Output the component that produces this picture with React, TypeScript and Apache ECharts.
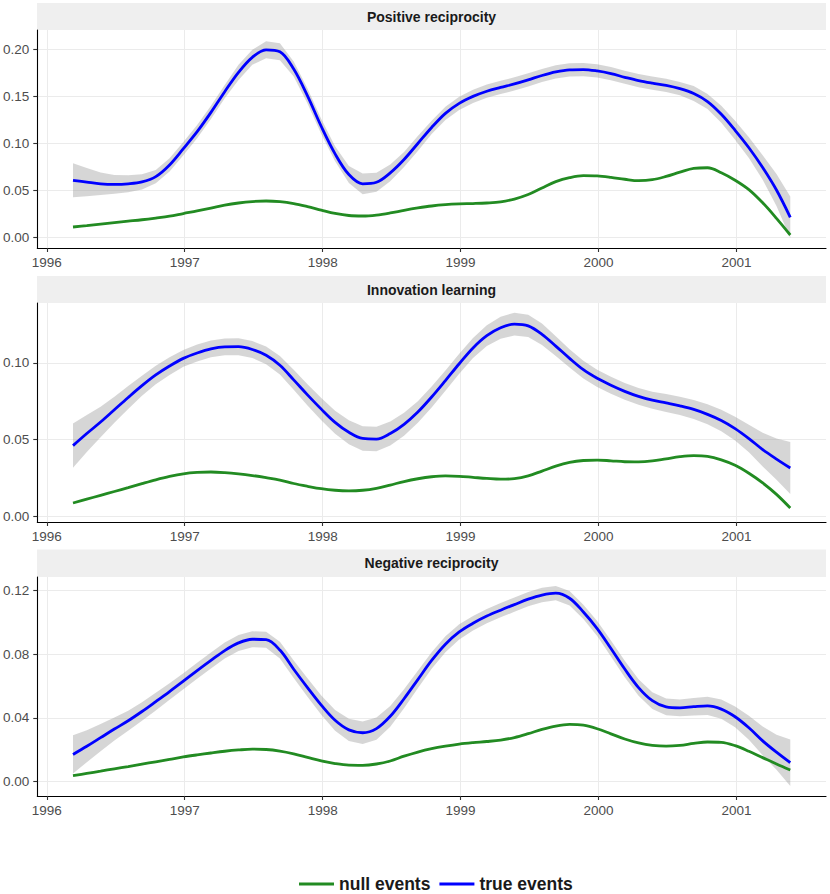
import React, { useEffect, useRef } from "react";
import * as echarts from "echarts";

// ---------- data ----------
const years = [
  1996.19, 1996.29, 1996.39, 1996.49, 1996.59, 1996.69, 1996.79, 1996.89, 1996.99, 1997.09,
  1997.19, 1997.29, 1997.39, 1997.49, 1997.59, 1997.69, 1997.79, 1997.89, 1997.99, 1998.09,
  1998.19, 1998.29, 1998.39, 1998.49, 1998.59, 1998.69, 1998.79, 1998.89, 1998.99, 1999.09,
  1999.19, 1999.29, 1999.39, 1999.49, 1999.59, 1999.69, 1999.79, 1999.89, 1999.99, 2000.09,
  2000.19, 2000.29, 2000.39, 2000.49, 2000.59, 2000.69, 2000.79, 2000.89, 2000.99, 2001.09,
  2001.19, 2001.29, 2001.39,
];
const yearTicks = [1996, 1997, 1998, 1999, 2000, 2001];
const panelTitles = ["Positive reciprocity", "Innovation learning", "Negative reciprocity"];
const seriesNames = ["null events", "true events"];

const posNull = [
  0.0113, 0.0128, 0.0144, 0.016, 0.0175, 0.019, 0.0208, 0.0228, 0.0256, 0.0283,
  0.0313, 0.0345, 0.0368, 0.0383, 0.0389, 0.0382, 0.0362, 0.033, 0.0293, 0.0258,
  0.0235, 0.023, 0.024, 0.0262, 0.029, 0.0315, 0.0336, 0.035, 0.0358, 0.0362,
  0.0368, 0.038, 0.041, 0.0458, 0.0528, 0.0595, 0.0637, 0.0658, 0.0655, 0.064,
  0.062, 0.0605, 0.0615, 0.065, 0.0695, 0.0735, 0.0742, 0.069, 0.061, 0.051,
  0.037, 0.0205, 0.0028,
];
const posTrue = [
  0.0609, 0.059, 0.0572, 0.0566, 0.0572, 0.0592, 0.0648, 0.0772, 0.0945, 0.1125,
  0.133, 0.155, 0.1755, 0.1915, 0.1995, 0.1975, 0.179, 0.1505, 0.118, 0.089,
  0.067, 0.0572, 0.0588, 0.0688, 0.083, 0.1, 0.117, 0.132, 0.1426, 0.15,
  0.1555, 0.1595, 0.1632, 0.1675, 0.1722, 0.176, 0.1782, 0.1785, 0.177, 0.1742,
  0.1703, 0.1667, 0.164, 0.1617, 0.1582, 0.153, 0.1445, 0.131, 0.114, 0.0955,
  0.0745, 0.0506, 0.0216,
];
const posTrueSe = [
  0.018, 0.015, 0.012, 0.01, 0.009, 0.008, 0.007, 0.007, 0.007, 0.007,
  0.007, 0.007, 0.008, 0.008, 0.009, 0.009, 0.008, 0.008, 0.008, 0.008,
  0.009, 0.011, 0.01, 0.009, 0.008, 0.008, 0.007, 0.007, 0.007, 0.007,
  0.007, 0.007, 0.007, 0.007, 0.007, 0.007, 0.007, 0.007, 0.007, 0.007,
  0.007, 0.007, 0.007, 0.007, 0.007, 0.008, 0.008, 0.009, 0.01, 0.011,
  0.013, 0.017, 0.022,
];

const innNull = [
  0.0087, 0.0112, 0.0137, 0.0162, 0.0187, 0.0213, 0.0238, 0.026, 0.0277, 0.0286,
  0.0289, 0.0285, 0.0277, 0.0266, 0.0252, 0.0236, 0.0214, 0.0196, 0.018, 0.017,
  0.0166, 0.017, 0.0183, 0.0204, 0.0227, 0.0245, 0.0258, 0.0264, 0.0261, 0.0254,
  0.0247, 0.0242, 0.0246, 0.0264, 0.0295, 0.0327, 0.0351, 0.0364, 0.0367, 0.0362,
  0.0356, 0.0355, 0.0361, 0.0375, 0.0389, 0.0396, 0.0391, 0.0368, 0.0333, 0.0281,
  0.0218, 0.0143, 0.0054,
];
const innTrue = [
  0.0461, 0.054, 0.0615, 0.0695, 0.0775, 0.0852, 0.0922, 0.098, 0.103, 0.1065,
  0.1092, 0.1105, 0.1106, 0.1088, 0.105, 0.0985, 0.089, 0.0792, 0.0699, 0.0613,
  0.0548, 0.0508, 0.0504, 0.054, 0.06, 0.068, 0.0778, 0.0885, 0.0995, 0.1098,
  0.1178, 0.123, 0.1253, 0.1242, 0.1187, 0.111, 0.103, 0.0956, 0.09, 0.0855,
  0.0815, 0.0782, 0.0757, 0.0739, 0.072, 0.0697, 0.0665, 0.0625, 0.0572, 0.0507,
  0.0435, 0.0373, 0.0315,
];
const innTrueSe = [
  0.0145, 0.012, 0.01, 0.0085, 0.0075, 0.0065, 0.006, 0.0058, 0.0055, 0.0055,
  0.0055, 0.0055, 0.0055, 0.0055, 0.0058, 0.006, 0.0065, 0.007, 0.0072, 0.0075,
  0.0078, 0.008, 0.008, 0.0078, 0.0075, 0.007, 0.0068, 0.0066, 0.0065, 0.0065,
  0.0068, 0.0072, 0.0074, 0.0072, 0.007, 0.0065, 0.006, 0.0058, 0.0056, 0.0055,
  0.0055, 0.0055, 0.0056, 0.0058, 0.006, 0.0062, 0.0065, 0.007, 0.0078, 0.009,
  0.011, 0.0135, 0.017,
];

const negNull = [
  0.0038, 0.0052, 0.0066, 0.0081, 0.0095, 0.011, 0.0125, 0.014, 0.0155, 0.0168,
  0.018, 0.0191, 0.0199, 0.0204, 0.0202, 0.0192, 0.0175, 0.0153, 0.0131, 0.0114,
  0.0104, 0.0103, 0.0111, 0.013, 0.016, 0.0186, 0.0207, 0.0223, 0.0236, 0.0245,
  0.0252, 0.0261, 0.0277, 0.0301, 0.0328, 0.0349, 0.0359, 0.0354, 0.0332, 0.03,
  0.0268, 0.0243, 0.0228, 0.0223, 0.0228, 0.024, 0.0249, 0.0247, 0.0226, 0.0191,
  0.0151, 0.0111, 0.0073,
];
const negTrue = [
  0.0171, 0.0222, 0.0276, 0.033, 0.0382, 0.044, 0.0502, 0.0565, 0.063, 0.0696,
  0.076, 0.0822, 0.087, 0.0893, 0.089, 0.0825, 0.0705, 0.059, 0.048, 0.0385,
  0.0325, 0.0307, 0.0333, 0.041, 0.052, 0.064, 0.076, 0.0862, 0.0939, 0.0993,
  0.1038, 0.1075, 0.111, 0.1144, 0.117, 0.1182, 0.115, 0.1064, 0.096, 0.0835,
  0.0706, 0.059, 0.0508, 0.0469, 0.0463, 0.047, 0.0475, 0.0455, 0.0407, 0.0338,
  0.0256, 0.0185, 0.0119,
];
const negTrueSe = [
  0.012, 0.01, 0.0085, 0.0072, 0.0063, 0.0058, 0.0055, 0.0052, 0.005, 0.005,
  0.005, 0.005, 0.005, 0.005, 0.005, 0.0052, 0.0055, 0.0058, 0.006, 0.0065,
  0.007, 0.007, 0.007, 0.0065, 0.006, 0.0055, 0.0052, 0.005, 0.0048, 0.0046,
  0.0045, 0.0045, 0.0045, 0.0045, 0.0045, 0.0045, 0.0045, 0.0045, 0.0047, 0.005,
  0.0052, 0.0052, 0.0052, 0.0052, 0.0053, 0.0055, 0.0057, 0.006, 0.0065, 0.0075,
  0.009, 0.011, 0.0146,
];

const nullSeries = [posNull, innNull, negNull];
const trueSeries = [posTrue, innTrue, negTrue];
const trueSe = [posTrueSe, innTrueSe, negTrueSe];
const yTicks = [
  [0, 0.05, 0.1, 0.15, 0.2],
  [0, 0.05, 0.1],
  [0, 0.04, 0.08, 0.12],
];
const yRanges = [
  [-0.011, 0.2205],
  [-0.0037, 0.1391],
  [-0.00895, 0.1283],
];
const xRange = [1995.931, 2001.649];

// ---------- layout / style ----------
const FONT = "'Liberation Sans', Arial, Helvetica, sans-serif";
const GREEN = "#228B22";
const BLUE = "#0000FF";
const RIBBON = "rgba(153,153,153,0.4)";
const PLOT_LEFT = 37;
const PLOT_WIDTH = 789;
const panels = [
  { stripTop: 3, stripH: 27, top: 30, height: 218 },
  { stripTop: 276, stripH: 27, top: 303, height: 219 },
  { stripTop: 549.5, stripH: 27.5, top: 577, height: 219 },
];

function buildOption() {
  const grid = panels.map((p) => ({
    left: PLOT_LEFT,
    top: p.top,
    width: PLOT_WIDTH,
    height: p.height,
    containLabel: false,
  }));

  const xAxis = panels.map((_, i) => ({
    type: "value",
    gridIndex: i,
    min: xRange[0],
    max: xRange[1],
    axisLine: { show: true, onZero: false, lineStyle: { color: "#000", width: 1.1 } },
    axisTick: { show: true, length: 4, customValues: yearTicks, lineStyle: { color: "#333", width: 1.1 } },
    axisLabel: {
      customValues: yearTicks,
      formatter: (v: number) => String(Math.round(v)),
      color: "#4d4d4d",
      fontSize: 13.5,
      fontFamily: FONT,
      margin: 7,
    },
    splitLine: { show: true, lineStyle: { color: "#ebebeb", width: 1 } },
  }));

  const yAxis = panels.map((_, i) => ({
    type: "value",
    gridIndex: i,
    min: yRanges[i][0],
    max: yRanges[i][1],
    axisLine: { show: true, onZero: false, lineStyle: { color: "#000", width: 1.1 } },
    axisTick: { show: true, length: 4, customValues: yTicks[i], lineStyle: { color: "#333", width: 1.1 } },
    axisLabel: {
      customValues: yTicks[i],
      formatter: (v: number) => v.toFixed(2),
      color: "#4d4d4d",
      fontSize: 13.5,
      fontFamily: FONT,
      margin: 8,
    },
    splitLine: { show: true, lineStyle: { color: "#ebebeb", width: 1 } },
  }));

  const series: any[] = [];
  panels.forEach((_, i) => {
    const nul = nullSeries[i];
    const tru = trueSeries[i];
    const se = trueSe[i];
    series.push({
      type: "line",
      name: seriesNames[0],
      xAxisIndex: i,
      yAxisIndex: i,
      data: years.map((x, k) => [x, nul[k]]),
      showSymbol: false,
      symbol: "none",
      smooth: 0.35,
      silent: true,
      z: 2,
      itemStyle: { color: GREEN },
      lineStyle: { color: GREEN, width: 2.8 },
    });
    series.push({
      type: "custom",
      name: "ribbon" + i,
      xAxisIndex: i,
      yAxisIndex: i,
      data: [[years[0], tru[0]]],
      clip: true,
      silent: true,
      z: 2,
      renderItem: (params: any, api: any) => {
        const pts: number[][] = [];
        for (let k = 0; k < years.length; k++) pts.push(api.coord([years[k], tru[k] + se[k]]));
        for (let k = years.length - 1; k >= 0; k--) pts.push(api.coord([years[k], tru[k] - se[k]]));
        return {
          type: "polygon",
          shape: { points: pts },
          style: { fill: RIBBON, stroke: null },
        };
      },
    });
    series.push({
      type: "line",
      name: seriesNames[1],
      xAxisIndex: i,
      yAxisIndex: i,
      data: years.map((x, k) => [x, tru[k]]),
      showSymbol: false,
      symbol: "none",
      smooth: 0.35,
      silent: true,
      z: 2,
      itemStyle: { color: BLUE },
      lineStyle: { color: BLUE, width: 2.8 },
    });
  });

  const graphic: any[] = [];
  panels.forEach((p, i) => {
    graphic.push({
      type: "rect",
      silent: true,
      z: 0,
      shape: { x: PLOT_LEFT, y: p.stripTop, width: PLOT_WIDTH, height: p.stripH },
      style: { fill: "#efefef" },
    });
    graphic.push({
      type: "text",
      silent: true,
      z: 1,
      x: PLOT_LEFT + PLOT_WIDTH / 2,
      y: p.stripTop + p.stripH / 2,
      style: {
        text: panelTitles[i],
        fill: "#1a1a1a",
        font: `bold 14px ${FONT}`,
        align: "center",
        verticalAlign: "middle",
        textAlign: "center",
        textVerticalAlign: "middle",
      },
    });
  });

  return {
    animation: false,
    backgroundColor: "#ffffff",
    textStyle: { fontFamily: FONT },
    grid,
    xAxis,
    yAxis,
    series,
    graphic,
    legend: {
      data: seriesNames.map((n) => ({ name: n, icon: "rect" })),
      left: 299,
      top: 875,
      padding: 0,
      itemWidth: 35,
      itemHeight: 3,
      itemGap: 9,
      selectedMode: false,
      textStyle: { fontSize: 17.5, fontWeight: "bold", color: "#1a1a1a", fontFamily: FONT },
    },
  };
}

export default function App() {
  const ref = useRef<HTMLDivElement>(null);
  useEffect(() => {
    document.body.style.margin = "0";
    if (!ref.current) return;
    const chart = echarts.init(ref.current, undefined, { renderer: "svg" });
    chart.setOption(buildOption() as any);
    return () => chart.dispose();
  }, []);
  return <div ref={ref} style={{ width: 830, height: 894 }} />;
}
